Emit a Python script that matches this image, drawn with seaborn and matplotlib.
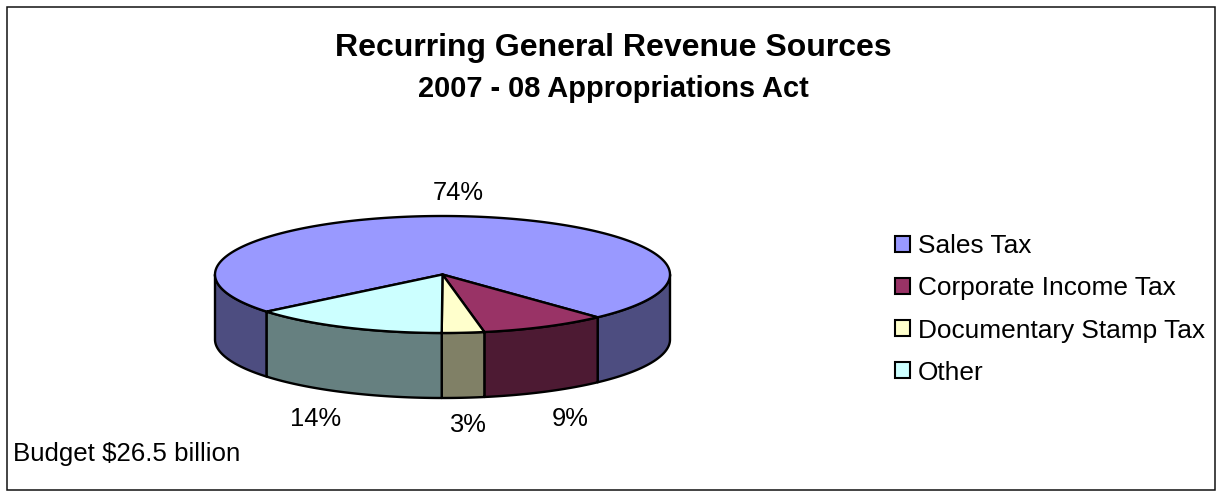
import numpy as np
import matplotlib
matplotlib.use("Agg")
import matplotlib.pyplot as plt
from matplotlib.patches import Patch, Polygon, Rectangle
import seaborn as sns

categories = ["Sales Tax", "Corporate Income Tax", "Documentary Stamp Tax", "Other"]
shares = [74, 9, 3, 14]
slice_colors = ["#9999FF", "#993366", "#FFFFCC", "#CCFFFF"]
share_labels = ["74%", "9%", "3%", "14%"]
title_lines = ["Recurring General Revenue Sources", "2007 - 08 Appropriations Act"]
footnote = "Budget $26.5 billion"

sns.set_theme(style="white", font="Liberation Sans")
palette = sns.color_palette(slice_colors)

W, H = 1218, 491
fig = plt.figure(figsize=(W / 100, H / 100), dpi=100, facecolor="white")
ax = fig.add_axes([0, 0, 1, 1])
ax.set_xlim(0, W)
ax.set_ylim(H, 0)
ax.axis("off")

# Outer chart frame
ax.add_patch(Rectangle((6.5, 6.5), 1208, 483.5, fill=False, ec="#111111", lw=1.1))

# Disc geometry: angle is measured from the front of the disc, positive to the right
cx, cy, rx, ry, depth = 442.5, 274.5, 227.5, 58.5, 65
edge = dict(ec="black", lw=1.7, joinstyle="round")


def rim(a0, a1, n=120):
    t = np.radians(np.linspace(a0, a1, n))
    return np.column_stack([cx + rx * np.sin(t), cy + ry * np.cos(t)])


# Slices run clockwise on screen, so the angle falls from the first slice's start
start = 43 + 266.4
stops = start - np.cumsum([0] + shares) * 3.6
spans = list(zip(stops[:-1], stops[1:]))


def draw_wall(a0, a1, color):
    arc = rim(a0, a1)
    wall = np.vstack([arc, arc[::-1] + [0, depth]])
    ax.add_patch(Polygon(wall, closed=True, fc=np.array(color) * 0.5, zorder=2, **edge))


# Side walls: only the part of each slice facing the viewer (-90 to 90 degrees)
for (a0, a1), color in zip(spans, palette):
    for shift in (0, -360):
        hi, lo = min(a0 + shift, 90), max(a1 + shift, -90)
        if hi > lo:
            draw_wall(hi, lo, color)

# Top faces
for (a0, a1), color in zip(spans, palette):
    top = np.vstack([[cx, cy], rim(a0, a1, 240)])
    ax.add_patch(Polygon(top, closed=True, fc=color, zorder=3, **edge))

# Percentage labels
label_xy = [(458, 193), (570, 419), (467, 425), (316, 419)]
for text, (x, y) in zip(share_labels, label_xy):
    ax.text(x, y, text, ha="center", va="center", fontsize=18.4, color="black")

ax.text(613, 47.5, title_lines[0], ha="center", va="center", fontsize=23.05,
        fontweight="bold", color="black")
ax.text(613, 88.5, title_lines[1], ha="center", va="center", fontsize=20.85,
        fontweight="bold", color="black")
ax.text(13, 454, footnote, ha="left", va="center", fontsize=18.6, color="black")

handles = [Patch(fc=c, ec="black", lw=1.5) for c in palette]
ax.legend(handles, categories, loc="center left", bbox_to_anchor=(895, 309.5),
          bbox_transform=ax.transData, frameon=False, fontsize=18.9,
          handlelength=0.57, handleheight=0.57, handletextpad=0.3,
          labelspacing=0.69, borderpad=0, borderaxespad=0, labelcolor="black")

fig.savefig("out.png", dpi=100)
